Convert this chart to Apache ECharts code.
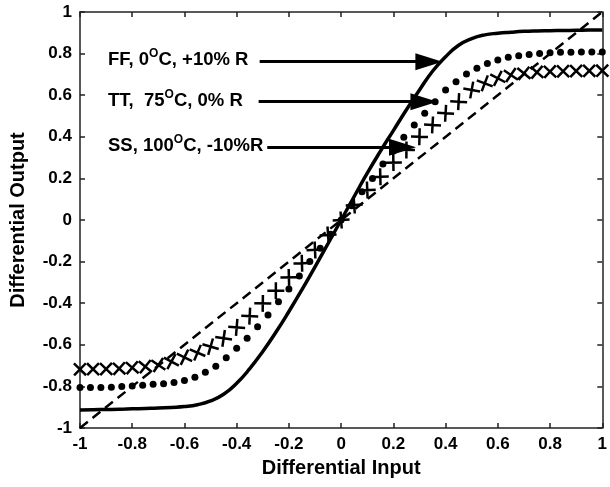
<!DOCTYPE html>
<html style="height: 100%">
<head>
    <meta charset="UTF-8" />
    <title>Differential transfer</title>
    <script src="https://cdn.jsdelivr.net/npm/echarts@6/dist/echarts.min.js"></script>
</head>
<body style="height: 100%; margin: 0; background: #fff">
    <div id="main" style="width: 610px; height: 487px; margin: 0"></div>
    <script type="text/javascript">
        // axis ticks
        var tickValues = [-1, -0.8, -0.6, -0.4, -0.2, 0, 0.2, 0.4, 0.6, 0.8, 1];

        // FF, 0C, +10% R  (solid)
        var ffX = [-1, -0.95, -0.9, -0.85, -0.8, -0.75, -0.7, -0.65, -0.6, -0.55, -0.5, -0.45, -0.4, -0.35, -0.3, -0.25, -0.2, -0.15, -0.1, -0.05,
            0, 0.05, 0.1, 0.15, 0.2, 0.25, 0.3, 0.35, 0.4, 0.45, 0.5, 0.55, 0.6, 0.65, 0.7, 0.75, 0.8, 0.85, 0.9, 0.95, 1];
        var ffY = [-0.913, -0.912, -0.911, -0.910, -0.908, -0.906, -0.904, -0.901, -0.897, -0.888, -0.870, -0.838, -0.785, -0.715, -0.632, -0.540, -0.440, -0.335, -0.225, -0.113,
            0, 0.113, 0.225, 0.33, 0.43, 0.53, 0.625, 0.715, 0.785, 0.84, 0.872, 0.89, 0.898, 0.903, 0.907, 0.909, 0.91, 0.911, 0.912, 0.913, 0.913];

        // TT, 75C, 0% R  (dots)
        var ttX = [-1, -0.96, -0.92, -0.88, -0.84, -0.8, -0.76, -0.72, -0.68, -0.64, -0.6, -0.56, -0.52, -0.48, -0.44, -0.4, -0.36, -0.32, -0.28, -0.24, -0.2, -0.16, -0.12, -0.08, -0.04,
            0, 0.04, 0.08, 0.12, 0.16, 0.2, 0.24, 0.28, 0.32, 0.36, 0.4, 0.44, 0.48, 0.52, 0.56, 0.6, 0.64, 0.68, 0.72, 0.76, 0.8, 0.84, 0.88, 0.92, 0.96, 1];
        var ttY = [-0.805, -0.805, -0.805, -0.804, -0.801, -0.798, -0.794, -0.790, -0.787, -0.781, -0.772, -0.756, -0.732, -0.703, -0.662, -0.617, -0.569, -0.513, -0.457, -0.393, -0.332, -0.269, -0.200, -0.136, -0.068,
            0, 0.068, 0.136, 0.200, 0.269, 0.332, 0.398, 0.457, 0.513, 0.569, 0.625, 0.665, 0.702, 0.729, 0.753, 0.769, 0.782, 0.79, 0.796, 0.80, 0.804, 0.806, 0.807, 0.808, 0.808, 0.808];

        // SS, 100C, -10% R  (crosses)
        var ssX = [-1, -0.95, -0.9, -0.85, -0.8, -0.75, -0.7, -0.65, -0.6, -0.55, -0.5, -0.45, -0.4, -0.35, -0.3, -0.25, -0.2, -0.15, -0.1, -0.05,
            0, 0.05, 0.1, 0.15, 0.2, 0.25, 0.3, 0.35, 0.4, 0.45, 0.5, 0.55, 0.6, 0.65, 0.7, 0.75, 0.8, 0.85, 0.9, 0.95, 1];
        var ssY = [-0.718, -0.717, -0.716, -0.714, -0.710, -0.705, -0.697, -0.681, -0.660, -0.638, -0.609, -0.569, -0.516, -0.462, -0.401, -0.340, -0.276, -0.208, -0.144, -0.072,
            0, 0.072, 0.144, 0.208, 0.276, 0.337, 0.400, 0.457, 0.513, 0.569, 0.625, 0.657, 0.681, 0.697, 0.705, 0.710, 0.713, 0.715, 0.716, 0.717, 0.718];

        // ideal (dashed)
        var idealX = [-1, 1];
        var idealY = [-1, 1];

        // annotation arrows: label, y, line start x, line end x
        var arrowLabels = ['FF, 0{s|O}C, +10% R', 'TT,  75{s|O}C, 0% R', 'SS, 100{s|O}C, -10%R'];
        var arrowY = [0.761, 0.569, 0.35];
        var arrowX0 = [-0.312, -0.316, -0.283];
        var arrowX1 = [0.336, 0.317, 0.235];

        function zip(xs, ys) {
            return xs.map(function (x, i) { return [x, ys[i]]; });
        }

        var chartDom = document.getElementById('main');
        var myChart = echarts.init(chartDom);
        var font = '"Liberation Sans", Arial, sans-serif';
        var axisColor = '#222';

        function axis(pos, showLabels) {
            return {
                type: 'value',
                position: pos,
                min: -1,
                max: 1,
                interval: 0.2,
                axisLine: { show: true, onZero: false, lineStyle: { color: axisColor, width: 1.5 } },
                axisTick: { show: true, inside: true, length: 5, lineStyle: { color: axisColor, width: 1.5 } },
                splitLine: { show: false },
                axisLabel: {
                    show: showLabels,
                    color: '#000',
                    fontFamily: font,
                    fontWeight: 'bold',
                    fontSize: 17,
                    margin: 8,
                    formatter: function (v) { return String(Math.round(v * 10) / 10); }
                }
            };
        }

        var xBottom = axis('bottom', true);
        xBottom.name = 'Differential Input';
        xBottom.nameLocation = 'middle';
        xBottom.nameGap = 30;
        xBottom.nameTextStyle = { color: '#000', fontFamily: font, fontWeight: 'bold', fontSize: 20 };
        var yLeft = axis('left', true);
        yLeft.name = 'Differential Output';
        yLeft.nameLocation = 'middle';
        yLeft.nameGap = 52;
        yLeft.nameTextStyle = { color: '#000', fontFamily: font, fontWeight: 'bold', fontSize: 20 };

        var option = {
            animation: false,
            grid: { left: 80, right: 2, top: 12, bottom: 59 },
            xAxis: [xBottom, axis('top', false)],
            yAxis: [yLeft, axis('right', false)],
            graphic: arrowLabels.map(function (t, i) {
                return {
                    type: 'text',
                    left: 108,
                    top: [48, 89, 134][i],
                    style: {
                        text: t,
                        fill: '#000',
                        font: 'bold 18.5px ' + font,
                        rich: {
                            s: { fontSize: 12, fontWeight: 'bold', fontFamily: font, fill: '#000', padding: [0, 0, 11, 0] }
                        }
                    }
                };
            }),
            series: [
                {
                    type: 'line',
                    data: zip(idealX, idealY),
                    showSymbol: false,
                    lineStyle: { color: '#000', width: 2.5, type: [10, 6] }
                },
                {
                    type: 'line',
                    data: zip(ffX, ffY),
                    smooth: true,
                    showSymbol: false,
                    lineStyle: { color: '#000', width: 3.5 }
                },
                {
                    type: 'scatter',
                    data: zip(ttX, ttY),
                    symbol: 'circle',
                    symbolSize: 7,
                    itemStyle: { color: '#000', opacity: 1 }
                },
                {
                    type: 'scatter',
                    data: zip(ssX, ssY),
                    symbol: 'path://M0,0L10,10M10,0L0,10',
                    symbolSize: 12,
                    itemStyle: { color: 'none', borderColor: '#000', borderWidth: 2.5, opacity: 1 }
                },
                {
                    type: 'line',
                    data: [],
                    markLine: {
                        silent: true,
                        symbol: ['none', 'triangle'],
                        symbolSize: [17, 27],
                        label: { show: false },
                        lineStyle: { color: '#000', width: 3, type: 'solid' },
                        itemStyle: { color: '#000' },
                        data: arrowY.map(function (y, i) {
                            return [{ coord: [arrowX0[i], y] }, { coord: [arrowX1[i], y] }];
                        })
                    }
                }
            ]
        };
        myChart.setOption(option);

        // turn each cross with the local direction of its curve
        var rot = ssX.map(function (x, i) {
            var a = myChart.convertToPixel({ seriesIndex: 3 }, [ssX[Math.max(i - 1, 0)], ssY[Math.max(i - 1, 0)]]);
            var b = myChart.convertToPixel({ seriesIndex: 3 }, [ssX[Math.min(i + 1, ssX.length - 1)], ssY[Math.min(i + 1, ssX.length - 1)]]);
            return Math.atan2(a[1] - b[1], b[0] - a[0]) * 180 / Math.PI;
        });
        myChart.setOption({
            series: [{}, {}, {}, {
                data: zip(ssX, ssY).map(function (p, i) { return { value: p, symbolRotate: rot[i] }; })
            }, {}]
        });
    </script>
</body>
</html>
